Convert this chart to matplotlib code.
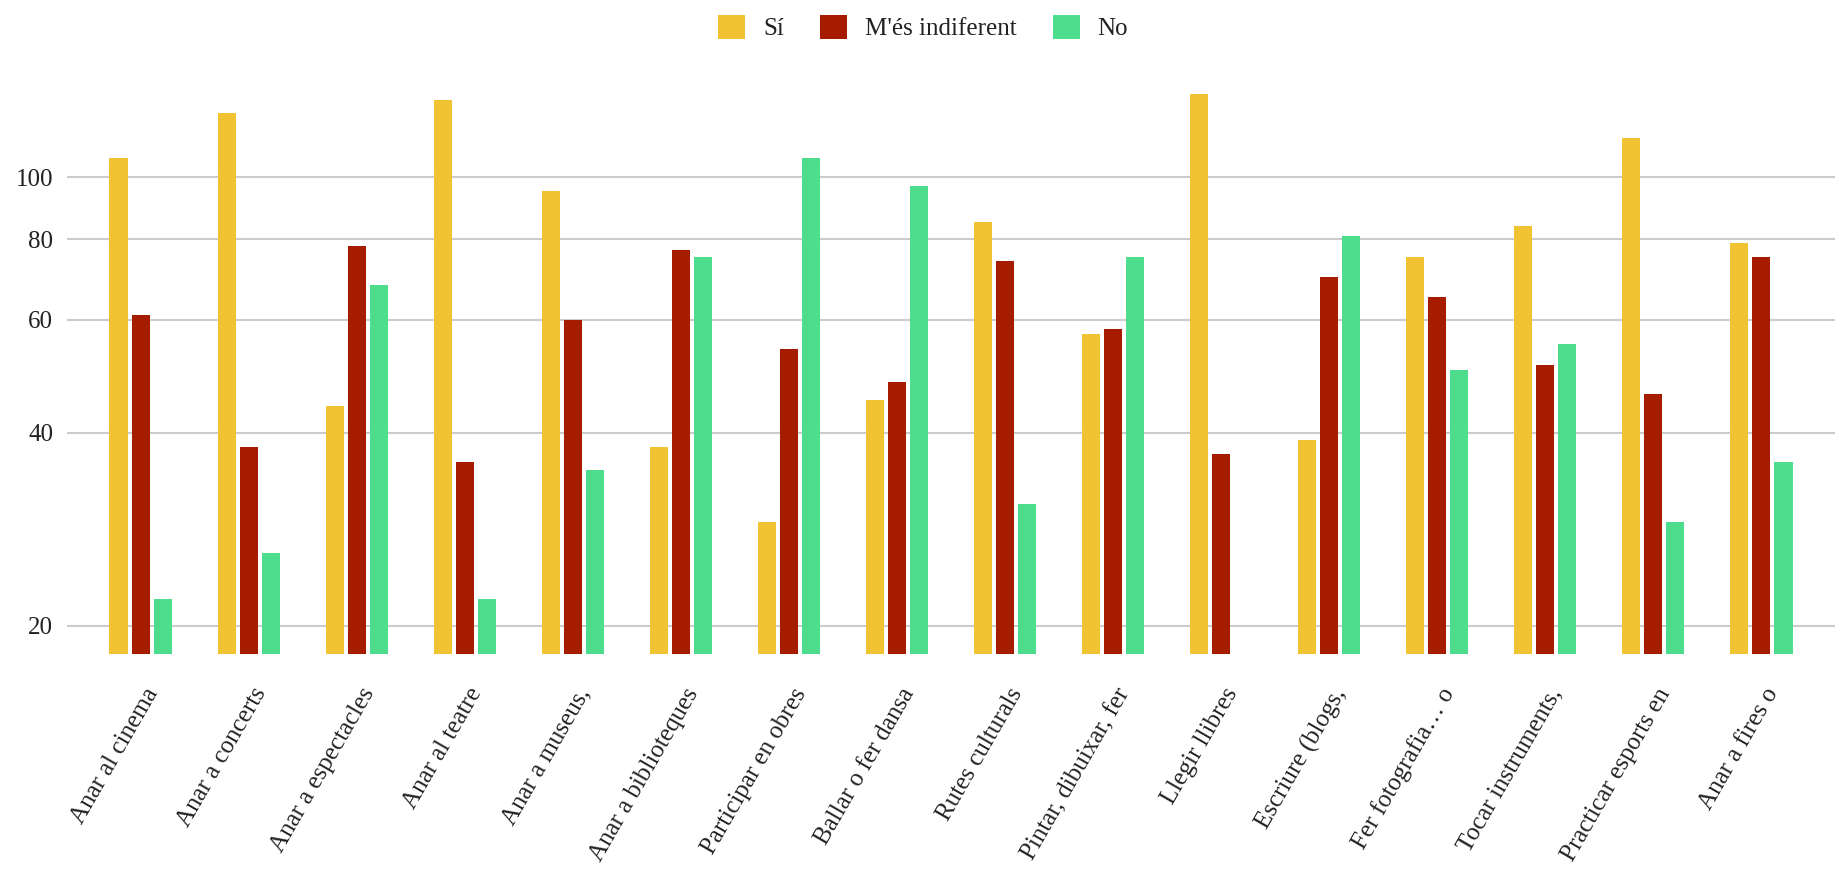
import matplotlib
matplotlib.use("Agg")
import matplotlib.pyplot as plt
import matplotlib.ticker as mticker
import matplotlib.transforms as mtransforms
import numpy as np

plt.rcParams['font.family'] = ['Liberation Serif', 'DejaVu Serif']

# activitats (etiquetes retallades com a l'original)
categories = ["Anar al cinema", "Anar a concerts", "Anar a espectacles",
              "Anar al teatre", "Anar a museus,", "Anar a biblioteques",
              "Participar en obres", "Ballar o fer dansa", "Rutes culturals",
              "Pintar, dibuixar, fer", "Llegir llibres", "Escriure (blogs,",
              "Fer fotografia… o", "Tocar instruments,", "Practicar esports en",
              "Anar a fires o"]

si = [107, 126, 44, 132, 95, 38, 29, 45, 85, 57, 135, 39, 75, 84, 115, 79]
indiferent = [61, 38, 78, 36, 60, 77, 54, 48, 74, 58, 37, 70, 65, 51, 46, 75]
no = [22, 26, 68, 22, 35, 75, 107, 97, 31, 75, 18, 81, 50, 55, 29, 36]

series = ["Sí", "M'és indiferent", "No"]
colors = ["#f1c232", "#a61c00", "#4edd8c"]
yticks = [20, 40, 60, 80, 100]

fig = plt.figure(figsize=(18.35, 8.69), dpi=100)
ax = fig.add_axes([67 / 1835, (869 - 654) / 869, 1 - 67 / 1835, (654 - 75) / 869])

x = np.arange(len(categories))
step = 0.208
width = 0.167
for i, (vals, col, name) in enumerate(zip([si, indiferent, no], colors, series)):
    ax.bar(x + (i - 1) * step, np.array(vals) - 1, bottom=1, width=width,
           color=col, label=name, zorder=3)

ax.set_yscale('log')
ax.set_ylim(18.07, 144.3)
ax.set_xlim(-0.685, len(categories) - 1 + 0.685)
ax.yaxis.set_major_locator(mticker.FixedLocator(yticks))
ax.yaxis.set_minor_locator(mticker.NullLocator())
ax.yaxis.set_major_formatter(mticker.FixedFormatter([str(t) for t in yticks]))
ax.grid(axis='y', color='#cccccc', linewidth=1.5, zorder=0)
ax.tick_params(axis='y', length=0, pad=10, labelsize=18, colors='#222222')
ax.tick_params(axis='x', length=0, pad=22, labelsize=18, colors='#222222')
for s in ax.spines.values():
    s.set_visible(False)

ax.set_xticks(x)
ax.set_xticklabels(categories, rotation=60, ha='right', va='center',
                   rotation_mode='anchor')
# move labels a bit right and down, like the original
shift = mtransforms.ScaledTranslation(12 / 100, -5 / 100, fig.dpi_scale_trans)
for lab in ax.get_xticklabels():
    lab.set_transform(lab.get_transform() + shift)

fig.legend(loc='center', bbox_to_anchor=(0.503, 0.968), ncol=3, frameon=False,
           fontsize=18, handlelength=1.08, handleheight=1.08,
           handletextpad=0.72, columnspacing=1.44, labelcolor='#222222')

fig.savefig("out.png", dpi=100)
